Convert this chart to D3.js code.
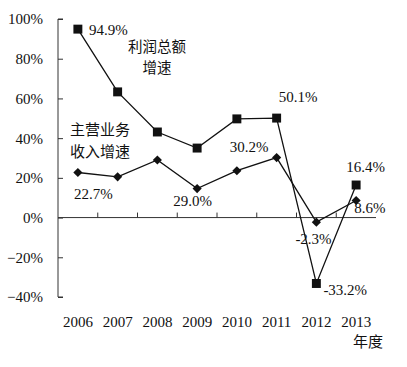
<!DOCTYPE html>
<html>
<head>
<meta charset="utf-8">
<script src="https://cdn.jsdelivr.net/npm/d3@7"></script>
<style>
  body { margin: 0; background: #fff; }
</style>
</head>
<body>
<svg id="chart"></svg>
<script>
const width = 407;
const height = 367;
const serif = "'Liberation Serif', 'Times New Roman', 'DejaVu Serif', serif";
const cjk = "'Noto Sans CJK SC', 'Noto Sans', sans-serif";

// data
const years = ['2006', '2007', '2008', '2009', '2010', '2011', '2012', '2013'];
const profitGrowth = [94.9, 63.3, 43.1, 35.0, 49.7, 50.1, -33.2, 16.4];
const revenueGrowth = [22.7, 20.5, 29.0, 14.6, 23.6, 30.2, -2.3, 8.6];
const yTicks = [-40, -20, 0, 20, 40, 60, 80, 100];

const profitName = ['利润总额', '增速'];
const revenueName = ['主营业务', '收入增速'];
const xTitle = '年度';

const svg = d3.select('#chart')
    .attr('width', width)
    .attr('height', height);

const x = d3.scaleBand()
    .domain(years)
    .range([58, 376]);

const y = d3.scaleLinear()
    .domain([-40, 100])
    .range([297, 19]);

const cx = d => x(d) + x.bandwidth() / 2;

// y axis, ticks pointing inward
const yAxis = svg.append('g')
    .attr('transform', `translate(${x.range()[0]}, 0)`)
    .call(d3.axisRight(y).tickValues(yTicks).tickSize(5).tickFormat(''));
yAxis.select('.domain').attr('stroke', '#333').attr('d', `M5,${y(-40)}H0V${y(100)}H5`);
yAxis.selectAll('.tick line').attr('stroke', '#333');

svg.append('g')
    .selectAll('text')
    .data(yTicks)
    .enter()
    .append('text')
    .attr('x', 43)
    .attr('y', d => y(d) + 2)
    .attr('text-anchor', 'end')
    .attr('dominant-baseline', 'middle')
    .attr('font-family', serif)
    .attr('font-size', 15)
    .attr('fill', '#111')
    .text(d => (d < 0 ? '\u2212' + (-d) : d) + '%');

// zero line with category ticks pointing up
const xAxis = svg.append('g')
    .attr('transform', `translate(0, ${y(0)})`);
xAxis.append('line')
    .attr('x1', x.range()[0])
    .attr('x2', x.range()[1])
    .attr('stroke', '#333');
xAxis.selectAll('.tk')
    .data(years.slice(1))
    .enter()
    .append('line')
    .attr('x1', d => x(d))
    .attr('x2', d => x(d))
    .attr('y1', 0)
    .attr('y2', -5)
    .attr('stroke', '#333');

svg.append('g')
    .selectAll('text')
    .data(years)
    .enter()
    .append('text')
    .attr('x', cx)
    .attr('y', 327)
    .attr('text-anchor', 'middle')
    .attr('font-family', serif)
    .attr('font-size', 15)
    .attr('fill', '#111')
    .text(d => d);

svg.append('text')
    .attr('x', 368)
    .attr('y', 343)
    .attr('text-anchor', 'middle')
    .attr('dominant-baseline', 'middle')
    .attr('font-family', cjk)
    .attr('font-size', 15)
    .attr('fill', '#111')
    .text(xTitle);

// series
const profit = years.map((d, i) => ({year: d, value: profitGrowth[i]}));
const revenue = years.map((d, i) => ({year: d, value: revenueGrowth[i]}));

const line = d3.line()
    .x(d => cx(d.year))
    .y(d => y(d.value));

svg.append('path')
    .datum(profit)
    .attr('fill', 'none')
    .attr('stroke', '#111')
    .attr('stroke-width', 1.3)
    .attr('d', line);

svg.append('path')
    .datum(revenue)
    .attr('fill', 'none')
    .attr('stroke', '#111')
    .attr('stroke-width', 1.3)
    .attr('d', line);

svg.append('g')
    .selectAll('path')
    .data(profit)
    .enter()
    .append('path')
    .attr('transform', d => `translate(${cx(d.year)}, ${y(d.value)})`)
    .attr('d', d3.symbol(d3.symbolSquare, 80))
    .attr('fill', '#111');

svg.append('g')
    .selectAll('path')
    .data(revenue)
    .enter()
    .append('path')
    .attr('transform', d => `translate(${cx(d.year)}, ${y(d.value)}) rotate(45)`)
    .attr('d', d3.symbol(d3.symbolSquare, 42))
    .attr('fill', '#111');

// value labels, placed next to a point
const labels = [
    {s: profit, year: '2006', at: '2006', dx: 11, dy: 2},
    {s: profit, year: '2011', at: '2011', dx: 2, dy: -20},
    {s: profit, year: '2013', at: '2013', dx: -10, dy: -16},
    {s: profit, year: '2012', at: '2012', dx: 7, dy: 8},
    {s: revenue, year: '2006', at: '2006', dx: -4, dy: 23},
    {s: revenue, year: '2008', at: '2009', dx: -24, dy: 14},
    {s: revenue, year: '2011', at: '2011', dx: -47, dy: -9},
    {s: revenue, year: '2012', at: '2012', dx: -21, dy: 18},
    {s: revenue, year: '2013', at: '2013', dx: -2, dy: 9}
];

svg.append('g')
    .selectAll('text')
    .data(labels)
    .enter()
    .append('text')
    .attr('x', d => cx(d.at) + d.dx)
    .attr('y', d => y(d.s.find(p => p.year === d.at).value) + d.dy)
    .attr('dominant-baseline', 'middle')
    .attr('font-family', serif)
    .attr('font-size', 15)
    .attr('fill', '#111')
    .text(d => {
        const v = d.s.find(p => p.year === d.year).value;
        return (v < 0 ? '-' : '') + Math.abs(v).toFixed(1) + '%';
    });

// series names
svg.append('g')
    .selectAll('text')
    .data(profitName)
    .enter()
    .append('text')
    .attr('x', 157)
    .attr('y', (d, i) => 48 + i * 21)
    .attr('text-anchor', 'middle')
    .attr('dominant-baseline', 'middle')
    .attr('font-family', cjk)
    .attr('font-size', 14.5)
    .attr('fill', '#111')
    .text(d => d);

svg.append('g')
    .selectAll('text')
    .data(revenueName)
    .enter()
    .append('text')
    .attr('x', 100)
    .attr('y', (d, i) => 131 + i * 22)
    .attr('text-anchor', 'middle')
    .attr('dominant-baseline', 'middle')
    .attr('font-family', cjk)
    .attr('font-size', 15)
    .attr('fill', '#111')
    .text(d => d);
</script>
</body>
</html>
